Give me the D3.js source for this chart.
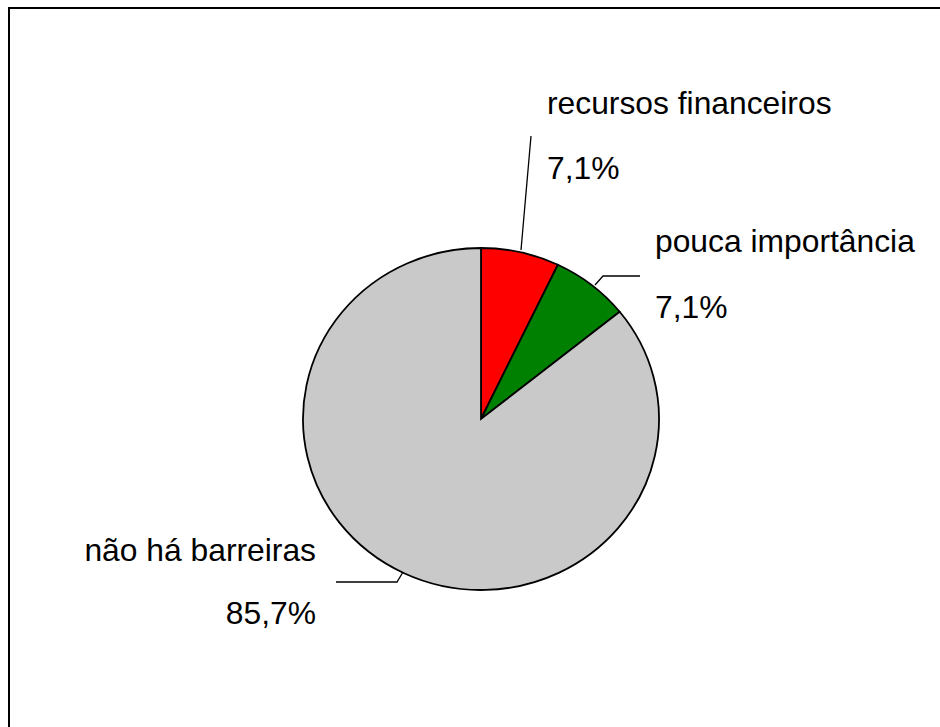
<!DOCTYPE html>
<html>
<head>
<meta charset="utf-8">
<script src="https://cdn.jsdelivr.net/npm/d3@7"></script>
<style>
  body { margin: 0; background: #fff; }
  text { font-family: "Liberation Sans", Arial, sans-serif; }
</style>
</head>
<body>
<script>
// pie of barriers, values in percent
var categories = ["recursos financeiros", "pouca importância", "não há barreiras"];
var values = [7.1, 7.1, 85.7];
var valueLabels = ["7,1%", "7,1%", "85,7%"];
var colors = ["#ff0000", "#008000", "#c9c9c9"];

var W = 940, H = 727;
var cx = 481, cy = 419, rx = 178, ry = 171;

var svg = d3.select("body").append("svg")
  .attr("width", W).attr("height", H);

// outer frame (runs off right and bottom)
svg.append("rect")
  .attr("x", 9).attr("y", 8)
  .attr("width", 1200).attr("height", 1200)
  .attr("fill", "none").attr("stroke", "#000").attr("stroke-width", 2);

var pie = d3.pie().sort(null).value(function(d) { return d; });
var arcs = pie(values);
var arc = d3.arc().innerRadius(0).outerRadius(1);

var g = svg.append("g")
  .attr("transform", "translate(" + cx + "," + cy + ") scale(" + rx + "," + ry + ")");

g.selectAll("path").data(arcs).enter().append("path")
  .attr("d", arc)
  .attr("fill", function(d, i) { return colors[i]; })
  .attr("stroke", "#000")
  .attr("stroke-width", 1.8)
  .attr("vector-effect", "non-scaling-stroke");

// label layout: leader line points and text anchors
var labelPos = [
  {tx: 547, ty: 114, vy: 179, anchor: "start", line: [[531, 136], [521, 250]]},
  {tx: 655, ty: 252, vy: 318, anchor: "start", line: [[640, 276], [603, 276], [595, 285]]},
  {tx: 316, ty: 561, vy: 624, anchor: "end", line: [[336, 582], [397, 582], [403, 572]]}
];

var line = d3.line();
labelPos.forEach(function(p, i) {
  svg.append("path")
    .attr("d", line(p.line))
    .attr("fill", "none").attr("stroke", "#000").attr("stroke-width", 1.3);
  svg.append("text")
    .attr("x", p.tx).attr("y", p.ty)
    .attr("text-anchor", p.anchor)
    .attr("font-size", 31.8)
    .text(categories[i]);
  svg.append("text")
    .attr("x", p.tx).attr("y", p.vy)
    .attr("text-anchor", p.anchor)
    .attr("font-size", 31.8)
    .text(valueLabels[i]);
});
</script>
</body>
</html>
